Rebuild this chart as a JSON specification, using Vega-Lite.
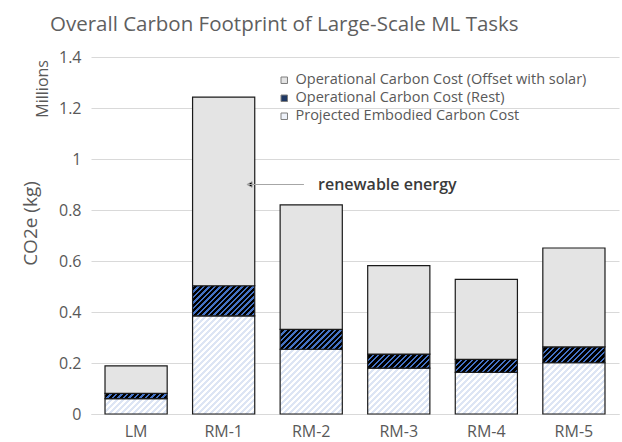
{
  "$schema": "https://vega.github.io/schema/vega-lite/v6.json",
  "width": 528,
  "height": 357,
  "autosize": {"type": "none"},
  "padding": {"left": 91, "top": 57, "right": 3, "bottom": 28},
  "background": "#ffffff",
  "config": {"view": {"stroke": null}, "font": "Open Sans"},
  "title": {
    "text": "Overall Carbon Footprint of Large-Scale ML Tasks",
    "anchor": "start",
    "frame": "group",
    "dx": -41,
    "offset": 14,
    "fontSize": 20.5,
    "fontWeight": "normal",
    "color": "#5f5f5f"
  },
  "params": [
    {"name": "darkStops", "value": [
      {"offset":0,"color":"#4472c4"},{"offset":0.02,"color":"#4472c4"},{"offset":0.02,"color":"#000000"},{"offset":0.05,"color":"#000000"},
      {"offset":0.05,"color":"#4472c4"},{"offset":0.07,"color":"#4472c4"},{"offset":0.07,"color":"#000000"},{"offset":0.1,"color":"#000000"},
      {"offset":0.1,"color":"#4472c4"},{"offset":0.12,"color":"#4472c4"},{"offset":0.12,"color":"#000000"},{"offset":0.15,"color":"#000000"},
      {"offset":0.15,"color":"#4472c4"},{"offset":0.17,"color":"#4472c4"},{"offset":0.17,"color":"#000000"},{"offset":0.2,"color":"#000000"},
      {"offset":0.2,"color":"#4472c4"},{"offset":0.22,"color":"#4472c4"},{"offset":0.22,"color":"#000000"},{"offset":0.25,"color":"#000000"},
      {"offset":0.25,"color":"#4472c4"},{"offset":0.27,"color":"#4472c4"},{"offset":0.27,"color":"#000000"},{"offset":0.3,"color":"#000000"},
      {"offset":0.3,"color":"#4472c4"},{"offset":0.32,"color":"#4472c4"},{"offset":0.32,"color":"#000000"},{"offset":0.35,"color":"#000000"},
      {"offset":0.35,"color":"#4472c4"},{"offset":0.37,"color":"#4472c4"},{"offset":0.37,"color":"#000000"},{"offset":0.4,"color":"#000000"},
      {"offset":0.4,"color":"#4472c4"},{"offset":0.42,"color":"#4472c4"},{"offset":0.42,"color":"#000000"},{"offset":0.45,"color":"#000000"},
      {"offset":0.45,"color":"#4472c4"},{"offset":0.47,"color":"#4472c4"},{"offset":0.47,"color":"#000000"},{"offset":0.5,"color":"#000000"},
      {"offset":0.5,"color":"#4472c4"},{"offset":0.52,"color":"#4472c4"},{"offset":0.52,"color":"#000000"},{"offset":0.55,"color":"#000000"},
      {"offset":0.55,"color":"#4472c4"},{"offset":0.57,"color":"#4472c4"},{"offset":0.57,"color":"#000000"},{"offset":0.6,"color":"#000000"},
      {"offset":0.6,"color":"#4472c4"},{"offset":0.62,"color":"#4472c4"},{"offset":0.62,"color":"#000000"},{"offset":0.65,"color":"#000000"},
      {"offset":0.65,"color":"#4472c4"},{"offset":0.67,"color":"#4472c4"},{"offset":0.67,"color":"#000000"},{"offset":0.7,"color":"#000000"},
      {"offset":0.7,"color":"#4472c4"},{"offset":0.72,"color":"#4472c4"},{"offset":0.72,"color":"#000000"},{"offset":0.75,"color":"#000000"},
      {"offset":0.75,"color":"#4472c4"},{"offset":0.77,"color":"#4472c4"},{"offset":0.77,"color":"#000000"},{"offset":0.8,"color":"#000000"},
      {"offset":0.8,"color":"#4472c4"},{"offset":0.82,"color":"#4472c4"},{"offset":0.82,"color":"#000000"},{"offset":0.85,"color":"#000000"},
      {"offset":0.85,"color":"#4472c4"},{"offset":0.87,"color":"#4472c4"},{"offset":0.87,"color":"#000000"},{"offset":0.9,"color":"#000000"},
      {"offset":0.9,"color":"#4472c4"},{"offset":0.92,"color":"#4472c4"},{"offset":0.92,"color":"#000000"},{"offset":0.95,"color":"#000000"},
      {"offset":0.95,"color":"#4472c4"},{"offset":0.97,"color":"#4472c4"},{"offset":0.97,"color":"#000000"},{"offset":1,"color":"#000000"}
    ]},
    {"name": "lightStops", "value": [
      {"offset":0,"color":"#dde5f4"},{"offset":0.015,"color":"#dde5f4"},{"offset":0.015,"color":"#ffffff"},{"offset":0.0333,"color":"#ffffff"},
      {"offset":0.0333,"color":"#dde5f4"},{"offset":0.0483,"color":"#dde5f4"},{"offset":0.0483,"color":"#ffffff"},{"offset":0.0667,"color":"#ffffff"},
      {"offset":0.0667,"color":"#dde5f4"},{"offset":0.0817,"color":"#dde5f4"},{"offset":0.0817,"color":"#ffffff"},{"offset":0.1,"color":"#ffffff"},
      {"offset":0.1,"color":"#dde5f4"},{"offset":0.115,"color":"#dde5f4"},{"offset":0.115,"color":"#ffffff"},{"offset":0.1333,"color":"#ffffff"},
      {"offset":0.1333,"color":"#dde5f4"},{"offset":0.1483,"color":"#dde5f4"},{"offset":0.1483,"color":"#ffffff"},{"offset":0.1667,"color":"#ffffff"},
      {"offset":0.1667,"color":"#dde5f4"},{"offset":0.1817,"color":"#dde5f4"},{"offset":0.1817,"color":"#ffffff"},{"offset":0.2,"color":"#ffffff"},
      {"offset":0.2,"color":"#dde5f4"},{"offset":0.215,"color":"#dde5f4"},{"offset":0.215,"color":"#ffffff"},{"offset":0.2333,"color":"#ffffff"},
      {"offset":0.2333,"color":"#dde5f4"},{"offset":0.2483,"color":"#dde5f4"},{"offset":0.2483,"color":"#ffffff"},{"offset":0.2667,"color":"#ffffff"},
      {"offset":0.2667,"color":"#dde5f4"},{"offset":0.2817,"color":"#dde5f4"},{"offset":0.2817,"color":"#ffffff"},{"offset":0.3,"color":"#ffffff"},
      {"offset":0.3,"color":"#dde5f4"},{"offset":0.315,"color":"#dde5f4"},{"offset":0.315,"color":"#ffffff"},{"offset":0.3333,"color":"#ffffff"},
      {"offset":0.3333,"color":"#dde5f4"},{"offset":0.3483,"color":"#dde5f4"},{"offset":0.3483,"color":"#ffffff"},{"offset":0.3667,"color":"#ffffff"},
      {"offset":0.3667,"color":"#dde5f4"},{"offset":0.3817,"color":"#dde5f4"},{"offset":0.3817,"color":"#ffffff"},{"offset":0.4,"color":"#ffffff"},
      {"offset":0.4,"color":"#dde5f4"},{"offset":0.415,"color":"#dde5f4"},{"offset":0.415,"color":"#ffffff"},{"offset":0.4333,"color":"#ffffff"},
      {"offset":0.4333,"color":"#dde5f4"},{"offset":0.4483,"color":"#dde5f4"},{"offset":0.4483,"color":"#ffffff"},{"offset":0.4667,"color":"#ffffff"},
      {"offset":0.4667,"color":"#dde5f4"},{"offset":0.4817,"color":"#dde5f4"},{"offset":0.4817,"color":"#ffffff"},{"offset":0.5,"color":"#ffffff"},
      {"offset":0.5,"color":"#dde5f4"},{"offset":0.515,"color":"#dde5f4"},{"offset":0.515,"color":"#ffffff"},{"offset":0.5333,"color":"#ffffff"},
      {"offset":0.5333,"color":"#dde5f4"},{"offset":0.5483,"color":"#dde5f4"},{"offset":0.5483,"color":"#ffffff"},{"offset":0.5667,"color":"#ffffff"},
      {"offset":0.5667,"color":"#dde5f4"},{"offset":0.5817,"color":"#dde5f4"},{"offset":0.5817,"color":"#ffffff"},{"offset":0.6,"color":"#ffffff"},
      {"offset":0.6,"color":"#dde5f4"},{"offset":0.615,"color":"#dde5f4"},{"offset":0.615,"color":"#ffffff"},{"offset":0.6333,"color":"#ffffff"},
      {"offset":0.6333,"color":"#dde5f4"},{"offset":0.6483,"color":"#dde5f4"},{"offset":0.6483,"color":"#ffffff"},{"offset":0.6667,"color":"#ffffff"},
      {"offset":0.6667,"color":"#dde5f4"},{"offset":0.6817,"color":"#dde5f4"},{"offset":0.6817,"color":"#ffffff"},{"offset":0.7,"color":"#ffffff"},
      {"offset":0.7,"color":"#dde5f4"},{"offset":0.715,"color":"#dde5f4"},{"offset":0.715,"color":"#ffffff"},{"offset":0.7333,"color":"#ffffff"},
      {"offset":0.7333,"color":"#dde5f4"},{"offset":0.7483,"color":"#dde5f4"},{"offset":0.7483,"color":"#ffffff"},{"offset":0.7667,"color":"#ffffff"},
      {"offset":0.7667,"color":"#dde5f4"},{"offset":0.7817,"color":"#dde5f4"},{"offset":0.7817,"color":"#ffffff"},{"offset":0.8,"color":"#ffffff"},
      {"offset":0.8,"color":"#dde5f4"},{"offset":0.815,"color":"#dde5f4"},{"offset":0.815,"color":"#ffffff"},{"offset":0.8333,"color":"#ffffff"},
      {"offset":0.8333,"color":"#dde5f4"},{"offset":0.8483,"color":"#dde5f4"},{"offset":0.8483,"color":"#ffffff"},{"offset":0.8667,"color":"#ffffff"},
      {"offset":0.8667,"color":"#dde5f4"},{"offset":0.8817,"color":"#dde5f4"},{"offset":0.8817,"color":"#ffffff"},{"offset":0.9,"color":"#ffffff"},
      {"offset":0.9,"color":"#dde5f4"},{"offset":0.915,"color":"#dde5f4"},{"offset":0.915,"color":"#ffffff"},{"offset":0.9333,"color":"#ffffff"},
      {"offset":0.9333,"color":"#dde5f4"},{"offset":0.9483,"color":"#dde5f4"},{"offset":0.9483,"color":"#ffffff"},{"offset":0.9667,"color":"#ffffff"},
      {"offset":0.9667,"color":"#dde5f4"},{"offset":0.9817,"color":"#dde5f4"},{"offset":0.9817,"color":"#ffffff"},{"offset":1,"color":"#ffffff"}
    ]}
  ],
  "datasets": {
    "costs": [
      {"model": "LM", "component": "Projected Embodied Carbon Cost", "value": 0.060},
      {"model": "LM", "component": "Operational Carbon Cost (Rest)", "value": 0.021},
      {"model": "LM", "component": "Operational Carbon Cost (Offset with solar)", "value": 0.108},
      {"model": "RM-1", "component": "Projected Embodied Carbon Cost", "value": 0.385},
      {"model": "RM-1", "component": "Operational Carbon Cost (Rest)", "value": 0.118},
      {"model": "RM-1", "component": "Operational Carbon Cost (Offset with solar)", "value": 0.740},
      {"model": "RM-2", "component": "Projected Embodied Carbon Cost", "value": 0.254},
      {"model": "RM-2", "component": "Operational Carbon Cost (Rest)", "value": 0.078},
      {"model": "RM-2", "component": "Operational Carbon Cost (Offset with solar)", "value": 0.488},
      {"model": "RM-3", "component": "Projected Embodied Carbon Cost", "value": 0.180},
      {"model": "RM-3", "component": "Operational Carbon Cost (Rest)", "value": 0.055},
      {"model": "RM-3", "component": "Operational Carbon Cost (Offset with solar)", "value": 0.347},
      {"model": "RM-4", "component": "Projected Embodied Carbon Cost", "value": 0.163},
      {"model": "RM-4", "component": "Operational Carbon Cost (Rest)", "value": 0.051},
      {"model": "RM-4", "component": "Operational Carbon Cost (Offset with solar)", "value": 0.314},
      {"model": "RM-5", "component": "Projected Embodied Carbon Cost", "value": 0.201},
      {"model": "RM-5", "component": "Operational Carbon Cost (Rest)", "value": 0.062},
      {"model": "RM-5", "component": "Operational Carbon Cost (Offset with solar)", "value": 0.388}
    ]
  },
  "layer": [
    {
      "data": {"name": "costs"},
      "mark": {
        "type": "bar",
        "stroke": "#1a1a1a",
        "strokeWidth": 1.2,
        "fill": {"expr": "datum.component === 'Operational Carbon Cost (Offset with solar)' ? '#e4e4e4' : {gradient: 'linear', x1: 0, y1: 0, x2: bandwidth('x') * (datum.component === 'Operational Carbon Cost (Rest)' ? 110 : 180) / (pow(bandwidth('x'), 2) + pow(scale('y', datum.value_start) - scale('y', datum.value_end), 2)), y2: (scale('y', datum.value_start) - scale('y', datum.value_end)) * (datum.component === 'Operational Carbon Cost (Rest)' ? 110 : 180) / (pow(bandwidth('x'), 2) + pow(scale('y', datum.value_start) - scale('y', datum.value_end), 2)), stops: datum.component === 'Operational Carbon Cost (Rest)' ? darkStops : lightStops}"}
      },
      "encoding": {
        "x": {
          "field": "model", "type": "nominal", "title": null,
          "scale": {"paddingInner": 0.29, "paddingOuter": 0.16},
          "axis": {"labelAngle": 0, "domain": true, "domainColor": "#d9d9d9", "ticks": false, "labelPadding": 9, "labelFontSize": 16, "labelColor": "#595959", "grid": false}
        },
        "y": {
          "field": "value", "type": "quantitative", "stack": "zero",
          "scale": {"domain": [0, 1.4], "nice": false},
          "title": "CO2e (kg)",
          "axis": {"values": [0, 0.2, 0.4, 0.6, 0.8, 1, 1.2, 1.4], "format": ".1~f", "grid": true, "gridColor": "#d9d9d9", "domain": false, "ticks": false, "labelPadding": 10, "labelFontSize": 16, "labelColor": "#595959", "titleFontSize": 19, "titleFontWeight": "normal", "titleColor": "#595959", "titlePadding": 18, "titleY": 166}
        },
        "detail": {"field": "component"},
        "order": {"field": "component", "sort": "descending"}
      }
    },
    {
      "data": {"name": "costs"},
      "mark": {"type": "point", "shape": "square", "filled": true, "size": 0, "opacity": 1},
      "encoding": {
        "x": {"field": "model", "type": "nominal"},
        "y": {"field": "value", "type": "quantitative"},
        "fill": {
          "field": "component", "type": "nominal",
          "scale": {"domain": ["Operational Carbon Cost (Offset with solar)", "Operational Carbon Cost (Rest)", "Projected Embodied Carbon Cost"], "range": ["#e4e4e4", "#1f3864", "#eef2fa"]},
          "legend": {
            "title": null, "orient": "none", "legendX": 186, "legendY": 16,
            "symbolType": "square", "symbolSize": 42, "symbolStrokeColor": "#7f7f7f", "symbolStrokeWidth": 1, "symbolOpacity": 1,
            "labelFontSize": 14.5, "labelColor": "#595959", "labelLimit": 500, "labelOffset": 4, "rowPadding": 3, "padding": 0,
            "encode": {"symbols": {"update": {"stroke": {"value": "#7f7f7f"}, "strokeWidth": {"value": 1}, "fill": {"signal": "datum.value === 'Operational Carbon Cost (Rest)' ? {gradient: 'linear', x1: 0, y1: 0, x2: 1, y2: 1, stops: [{offset: 0, color: '#000000'}, {offset: 0.45, color: '#000000'}, {offset: 0.45, color: '#4472c4'}, {offset: 0.75, color: '#4472c4'}, {offset: 0.75, color: '#000000'}, {offset: 1, color: '#000000'}]} : datum.value === 'Projected Embodied Carbon Cost' ? '#eef2fa' : '#e4e4e4'"}}}}
          }
        }
      }
    },
    {
      "data": {"values": [{"model": "RM-1", "y": 0.9}]},
      "mark": {"type": "point", "shape": "M-1,0L1,0M-1,0L-0.82,-0.1L-0.82,0.1Z", "size": 3249, "filled": true, "fill": "#000000", "stroke": "#a6a6a6", "strokeWidth": 1, "opacity": 1},
      "encoding": {
        "x": {"field": "model", "type": "nominal", "bandPosition": 1.333},
        "y": {"field": "y", "type": "quantitative"}
      }
    },
    {
      "data": {"values": [{"model": "RM-2", "y": 0.9, "label": "renewable energy"}]},
      "mark": {"type": "text", "align": "left", "baseline": "middle", "fontSize": 16, "fontWeight": 600, "color": "#3a3a3a"},
      "encoding": {
        "x": {"field": "model", "type": "nominal", "bandPosition": 0.61},
        "y": {"field": "y", "type": "quantitative"},
        "text": {"field": "label"}
      }
    },
    {
      "data": {"values": [{"model": "LM", "y": 1.388, "label": "Millions"}]},
      "mark": {"type": "text", "align": "right", "baseline": "middle", "angle": 270, "fontSize": 16, "color": "#595959"},
      "encoding": {
        "x": {"field": "model", "type": "nominal", "bandPosition": -0.99},
        "y": {"field": "y", "type": "quantitative"},
        "text": {"field": "label"}
      }
    }
  ]
}
